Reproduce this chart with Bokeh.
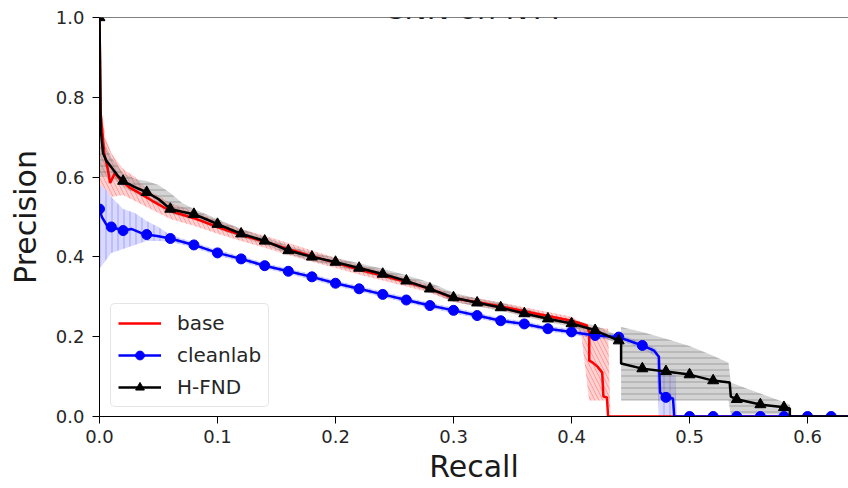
from bokeh.plotting import figure
from bokeh.models import Range1d, Span, Label, Legend, LegendItem
from bokeh.embed import file_html
from bokeh.resources import INLINE

# ---------------- data ----------------
title_text = "CNN on NYT"
x_label = "Recall"
y_label = "Precision"
x_ticks = [0.0, 0.1, 0.2, 0.3, 0.4, 0.5, 0.6]
x_tick_labels = ["0.0", "0.1", "0.2", "0.3", "0.4", "0.5", "0.6"]
y_ticks = [0.0, 0.2, 0.4, 0.6, 0.8, 1.0]
y_tick_labels = ["0.0", "0.2", "0.4", "0.6", "0.8", "1.0"]
series_names = ["base", "cleanlab", "H-FND"]

# base (red)
base_r = [0, 0.001, 0.004, 0.007, 0.009, 0.013, 0.017, 0.025, 0.035, 0.045, 0.06, 0.08, 0.10,
          0.12, 0.14, 0.16, 0.18, 0.20, 0.22, 0.24, 0.26, 0.28, 0.30, 0.32, 0.34, 0.36, 0.38,
          0.40, 0.413, 0.415, 0.415, 0.418, 0.422, 0.426, 0.427, 0.43, 0.431, 1.0]
base_p = [1.0, 0.76, 0.66, 0.62, 0.585, 0.61, 0.595, 0.575, 0.558, 0.54, 0.515, 0.497, 0.475,
          0.455, 0.438, 0.42, 0.402, 0.385, 0.368, 0.353, 0.337, 0.32, 0.296, 0.287, 0.276, 0.264, 0.252,
          0.24, 0.228, 0.21, 0.14, 0.135, 0.125, 0.11, 0.05, 0.048, 0.0, 0.0]
base_band_r = [0, 0.005, 0.01, 0.02, 0.03, 0.04, 0.06, 0.08, 0.10, 0.12, 0.14, 0.16, 0.18, 0.20,
               0.22, 0.24, 0.26, 0.28, 0.30, 0.32, 0.34, 0.36, 0.38, 0.40, 0.408, 0.415, 0.431, 0.433]
base_band_lo = [0.58, 0.57, 0.55, 0.555, 0.54, 0.525, 0.495, 0.478, 0.458, 0.44, 0.423, 0.405, 0.388, 0.372,
                0.356, 0.341, 0.326, 0.31, 0.287, 0.277, 0.266, 0.253, 0.241, 0.229, 0.21, 0.04, 0.04, 0.0]
base_band_hi = [0.8, 0.7, 0.66, 0.62, 0.6, 0.57, 0.535, 0.515, 0.492, 0.47, 0.453, 0.435, 0.416, 0.398,
                0.38, 0.365, 0.348, 0.33, 0.305, 0.297, 0.286, 0.274, 0.262, 0.25, 0.237, 0.225, 0.22, 0.0]

# cleanlab (blue)
clean_r = [0, 0.002, 0.006, 0.01, 0.02, 0.027, 0.035, 0.04, 0.05, 0.06, 0.08, 0.10, 0.12, 0.14,
           0.16, 0.18, 0.20, 0.22, 0.24, 0.26, 0.28, 0.30, 0.32, 0.34, 0.36, 0.38, 0.40, 0.42,
           0.44, 0.46, 0.47, 0.474, 0.475, 0.48, 0.486, 0.487, 1.0]
clean_p = [0.52, 0.5, 0.48, 0.475, 0.466, 0.47, 0.46, 0.456, 0.452, 0.446, 0.43, 0.41, 0.395, 0.378,
           0.364, 0.35, 0.334, 0.32, 0.306, 0.292, 0.278, 0.266, 0.253, 0.24, 0.232, 0.22, 0.212, 0.203,
           0.199, 0.178, 0.165, 0.15, 0.06, 0.048, 0.045, 0.0, 0.0]
clean_mark_r = [0.0, 0.01, 0.02, 0.04, 0.06, 0.08, 0.10, 0.12, 0.14, 0.16, 0.18, 0.20, 0.22, 0.24,
                0.26, 0.28, 0.30, 0.32, 0.34, 0.36, 0.38, 0.40, 0.42, 0.44, 0.46, 0.48, 0.50, 0.52,
                0.54, 0.56, 0.58, 0.60, 0.62]
clean_mark_p = [0.52, 0.475, 0.466, 0.456, 0.446, 0.43, 0.41, 0.395, 0.378, 0.364, 0.35, 0.334, 0.32, 0.306,
                0.292, 0.278, 0.266, 0.253, 0.24, 0.232, 0.22, 0.212, 0.203, 0.199, 0.178, 0.048, 0.0, 0.0,
                0.0, 0.0, 0.0, 0.0, 0.0]
clean_band_r = [0, 0.005, 0.01, 0.02, 0.03, 0.04, 0.05, 0.06, 0.08, 0.10, 0.12, 0.14, 0.16, 0.18,
                0.20, 0.22, 0.24, 0.26, 0.28, 0.30, 0.32, 0.34, 0.36, 0.38, 0.40, 0.42, 0.44, 0.46,
                0.472, 0.474, 0.488, 0.489]
clean_band_lo = [0.37, 0.39, 0.41, 0.42, 0.43, 0.44, 0.44, 0.438, 0.423, 0.403, 0.388, 0.371, 0.357, 0.343,
                 0.327, 0.313, 0.299, 0.285, 0.271, 0.259, 0.246, 0.233, 0.225, 0.213, 0.205, 0.196, 0.192, 0.17,
                 0.15, 0.0, 0.0, 0.0]
clean_band_hi = [0.58, 0.57, 0.55, 0.52, 0.51, 0.49, 0.475, 0.455, 0.437, 0.417, 0.402, 0.385, 0.371, 0.357,
                 0.341, 0.327, 0.313, 0.299, 0.285, 0.273, 0.26, 0.247, 0.239, 0.227, 0.219, 0.21, 0.206, 0.186,
                 0.17, 0.11, 0.11, 0.0]

# H-FND (black)
hfnd_r = [0, 0.001, 0.003, 0.006, 0.01, 0.015, 0.02, 0.03, 0.04, 0.05, 0.06, 0.07, 0.08, 0.09, 0.10,
          0.12, 0.14, 0.16, 0.18, 0.20, 0.22, 0.24, 0.26, 0.28, 0.30, 0.32, 0.34, 0.36, 0.38, 0.40,
          0.42, 0.44, 0.442, 0.442, 0.46, 0.48, 0.50, 0.52, 0.534, 0.535, 0.54, 0.56, 0.58, 0.585,
          0.585, 1.0]
hfnd_p = [1.0, 0.72, 0.66, 0.64, 0.625, 0.605, 0.59, 0.575, 0.562, 0.545, 0.52, 0.513, 0.507, 0.495, 0.482,
          0.458, 0.44, 0.416, 0.4, 0.387, 0.372, 0.357, 0.34, 0.32, 0.298, 0.285, 0.273, 0.258, 0.245, 0.233,
          0.216, 0.19, 0.188, 0.133, 0.12, 0.113, 0.105, 0.09, 0.085, 0.05, 0.043, 0.03, 0.023, 0.02,
          0.0, 0.0]
hfnd_mark_r = [0.0, 0.02, 0.04, 0.06, 0.08, 0.10, 0.12, 0.14, 0.16, 0.18, 0.20, 0.22, 0.24, 0.26, 0.28,
               0.30, 0.32, 0.34, 0.36, 0.38, 0.40, 0.42, 0.44, 0.46, 0.48, 0.50, 0.52, 0.54, 0.56, 0.58]
hfnd_mark_p = [1.0, 0.59, 0.562, 0.52, 0.507, 0.482, 0.458, 0.44, 0.416, 0.4, 0.387, 0.372, 0.357, 0.34, 0.32,
               0.298, 0.285, 0.273, 0.258, 0.245, 0.233, 0.216, 0.19, 0.12, 0.113, 0.105, 0.09, 0.043, 0.03, 0.023]
hfnd_band_r = [0, 0.005, 0.01, 0.02, 0.03, 0.04, 0.05, 0.06, 0.07, 0.08, 0.10, 0.12, 0.14, 0.16, 0.18,
               0.20, 0.22, 0.24, 0.26, 0.28, 0.30, 0.32, 0.34, 0.36, 0.38, 0.40, 0.42, 0.442, 0.442,
               0.46, 0.48, 0.50, 0.52, 0.533, 0.535, 0.55, 0.57, 0.585, 0.586]
hfnd_band_lo = [0.6, 0.6, 0.6, 0.575, 0.56, 0.545, 0.53, 0.51, 0.5, 0.495, 0.47, 0.45, 0.43, 0.408, 0.39,
                0.377, 0.363, 0.348, 0.332, 0.312, 0.288, 0.276, 0.265, 0.25, 0.237, 0.224, 0.205, 0.18, 0.04,
                0.04, 0.04, 0.04, 0.04, 0.04, 0.005, 0.005, 0.005, 0.005, 0.0]
hfnd_band_hi = [0.72, 0.68, 0.65, 0.61, 0.595, 0.59, 0.58, 0.56, 0.535, 0.52, 0.495, 0.47, 0.45, 0.428, 0.41,
                0.398, 0.384, 0.37, 0.354, 0.336, 0.31, 0.296, 0.285, 0.27, 0.255, 0.243, 0.228, 0.2, 0.224,
                0.212, 0.195, 0.177, 0.152, 0.135, 0.085, 0.068, 0.047, 0.03, 0.0]

FONT = "DejaVu Sans"
X_END = 0.6347

p = figure(width=848, height=488, x_range=Range1d(0, X_END), y_range=Range1d(0, 1.0),
           output_backend="svg", toolbar_location=None,
           min_border_left=99, min_border_right=0, min_border_top=17, min_border_bottom=72)
p.outline_line_color = None
p.grid.visible = False
p.background_fill_color = "white"

# bands
p.varea(x=base_band_r, y1=base_band_lo, y2=base_band_hi, fill_color="#ff0000", fill_alpha=0.18,
        hatch_pattern="left_diagonal_line", hatch_color="#ff0000", hatch_alpha=0.25, hatch_scale=8, hatch_weight=1)
p.varea(x=clean_band_r, y1=clean_band_lo, y2=clean_band_hi, fill_color="#0000ff", fill_alpha=0.15,
        hatch_pattern="vertical_line", hatch_color="#0000ff", hatch_alpha=0.25, hatch_scale=6, hatch_weight=1)
p.varea(x=hfnd_band_r, y1=hfnd_band_lo, y2=hfnd_band_hi, fill_color="#808080", fill_alpha=0.35,
        hatch_pattern="horizontal_line", hatch_color="#606060", hatch_alpha=0.45, hatch_scale=6, hatch_weight=1)

# lines
r_base = p.line(base_r, base_p, line_color="#ff0000", line_width=2.5)
r_clean = p.line(clean_r, clean_p, line_color="#0000ff", line_width=2.5)
m_clean = p.scatter(clean_mark_r, clean_mark_p, marker="circle", size=10, fill_color="#0000ff", line_color="#0000ff")
r_hfnd = p.line(hfnd_r, hfnd_p, line_color="black", line_width=2.5)
m_hfnd = p.scatter(hfnd_mark_r, hfnd_mark_p, marker="triangle", size=11, fill_color="black", line_color="black")

# top spine
p.add_layout(Span(location=1.0, dimension="width", line_color="black", line_width=1))

# axes
for ax, ticks, labels in ((p.xaxis[0], x_ticks, x_tick_labels), (p.yaxis[0], y_ticks, y_tick_labels)):
    ax.ticker = ticks
    ax.major_label_overrides = {t: l for t, l in zip(ticks, labels)}
    ax.minor_tick_line_color = None
    ax.major_tick_in = 0
    ax.major_tick_out = 7
    ax.major_tick_line_color = "black"
    ax.axis_line_color = "black"
    ax.major_label_text_font = FONT
    ax.major_label_text_font_size = "18px"
    ax.major_label_text_color = "#262626"
    ax.axis_label_text_font = FONT
    ax.axis_label_text_font_size = "30px"
    ax.axis_label_text_font_style = "normal"
    ax.axis_label_text_color = "#1a1a1a"

p.xaxis.axis_label = x_label
p.xaxis.major_label_standoff = 6
p.xaxis.axis_label_standoff = 3
p.yaxis.axis_label = y_label
p.yaxis.major_label_standoff = 8
p.yaxis.axis_label_standoff = 10

# title (cut off at the top edge, as in the reference)
p.add_layout(Label(x=X_END / 2, y=1.0, y_offset=9, text=title_text, text_align="center",
                   text_baseline="alphabetic", text_font=FONT, text_font_size="30px",
                   text_color="#1a1a1a"))

legend = Legend(items=[LegendItem(label=series_names[0], renderers=[r_base]),
                       LegendItem(label=series_names[1], renderers=[r_clean, m_clean]),
                       LegendItem(label=series_names[2], renderers=[r_hfnd, m_hfnd])],
                location=(11, 9))
legend.label_text_font = FONT
legend.label_text_font_size = "20px"
legend.label_text_color = "#262626"
legend.glyph_width = 43
legend.glyph_height = 22
legend.label_height = 22
legend.label_standoff = 16
legend.spacing = 8
legend.padding = 7
legend.margin = 0
legend.border_line_color = "#cccccc"
legend.border_line_width = 1
legend.background_fill_alpha = 0.8
try:
    legend.border_radius = 5
except Exception:
    pass
p.add_layout(legend, "center")

open("out.html", "w").write(file_html(p, INLINE))
